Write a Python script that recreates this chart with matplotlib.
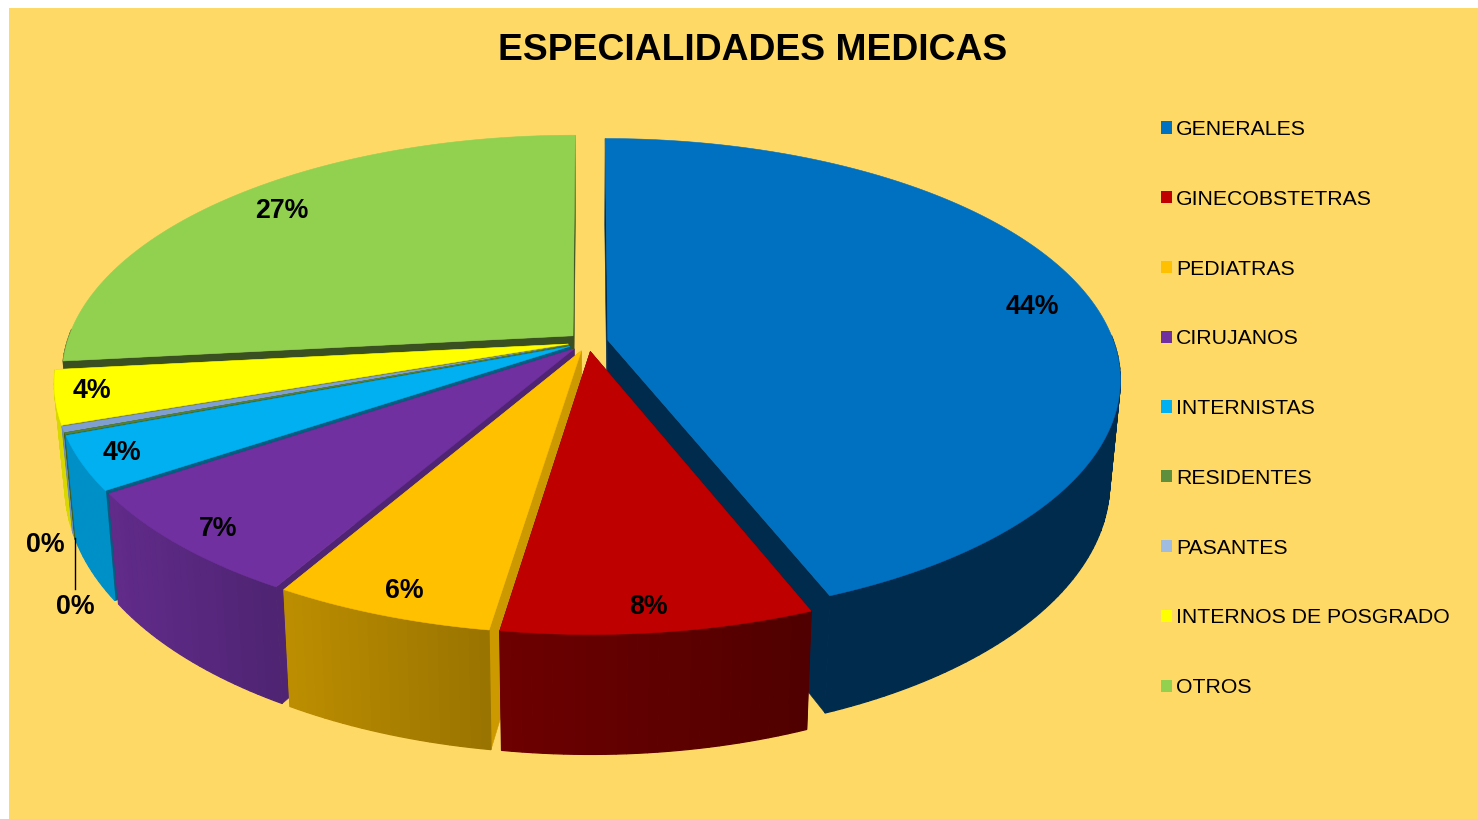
#!/usr/bin/env python3
import numpy as np
import matplotlib as mpl
mpl.use("Agg")
import matplotlib.pyplot as plt
from matplotlib.patches import Patch, Rectangle
from matplotlib.colors import to_rgb

plt.rcParams['font.family'] = ['Liberation Sans', 'DejaVu Sans']

categories = ['GENERALES', 'GINECOBSTETRAS', 'PEDIATRAS', 'CIRUJANOS', 'INTERNISTAS',
              'RESIDENTES', 'PASANTES', 'INTERNOS DE POSGRADO', 'OTROS']
values = [44.0, 8.4, 5.95, 7.25, 3.6, 0.1, 0.4, 3.6, 26.7]
pct_labels = ['44%', '8%', '6%', '7%', '4%', '0%', '0%', '4%', '27%']

top_colors = ['#0070C0', '#BE0000', '#FFC000', '#7030A0', '#00B0F0',
              '#548235', '#7F9FD0', '#FFFF00', '#92D050']
wall_left = ['#002B4C', '#6E0000', '#BD8E00', '#612B8A', '#0090C8',
             '#3F6020', '#6F8FB0', '#D8D800', '#3A5020']
wall_right = ['#002B4C', '#500000', '#9A7400', '#4F2473', '#0090C8',
              '#3F6020', '#6F8FB0', '#D8D800', '#3A5020']
face_colors = ['#002B4C', '#500000', '#CC9A00', '#4F2473', '#005F80',
               '#3F6020', '#3F5030', '#8A8A00', '#3A5020']
legend_colors = ['#0070C0', '#C00000', '#FFC000', '#7030A0', '#00B0F0',
                 '#5E8F3C', '#A0BCE0', '#FFFF00', '#92D050']
BG = '#FFD966'

# projection of the pie disk on the page (pixels)
cx, cy = 588, 342
a, b, k = 506, 234.5, 0.16
depth, shrink = 100, 0.98
explode = 0.04

# back to front
draw_order = [8, 0, 7, 6, 5, 4, 3, 2, 1]
label_pos = [(1032, 307), (648, 607), (404, 591), (218, 529), (122, 453),
             (45, 545), (75, 607), (92, 391), (282, 211)]


def project(u, v):
    w = 1 - k * v
    return cx + a * u / w, cy + b * v / w


def lower(x, y, v):
    return cx + (x - cx) * shrink, y + depth / (1 - k * v)


fig = plt.figure(figsize=(14.78, 8.19), dpi=100)
ax = fig.add_axes([0, 0, 1, 1])
ax.set_xlim(0, 1478)
ax.set_ylim(819, 0)
ax.axis('off')
ax.add_patch(Rectangle((9, 8), 1469, 811, fc=BG, ec='none', zorder=0))

fracs = np.array(values) / sum(values)
edges = np.concatenate([[0], np.cumsum(fracs)]) * 2 * np.pi

z = 1
for i in draw_order:
    t0, t1 = edges[i], edges[i + 1]
    mid = (t0 + t1) / 2
    ou, ov = explode * np.sin(mid), -explode * np.cos(mid)
    th = np.linspace(t0, t1, max(int((t1 - t0) * 60), 3))
    u = ou + np.sin(th)
    v = ov - np.cos(th)
    x, y = project(u, v)
    xb, yb = lower(x, y, v)
    ax_, ay_ = project(ou, ov)
    axb, ayb = lower(ax_, ay_, ov)

    # cut faces
    for j in (0, -1):
        ax.fill([ax_, x[j], xb[j], axb], [ay_, y[j], yb[j], ayb],
                fc=face_colors[i], ec=face_colors[i], lw=0.4, zorder=z)
    z += 1

    # outer wall, shaded along the arc, front part only
    c0, c1 = np.array(to_rgb(wall_left[i])), np.array(to_rgb(wall_right[i]))
    for n in range(len(th) - 1):
        if np.cos(th[n]) > 0.02:
            continue
        s = (x[n] - x.min()) / max(x.max() - x.min(), 1)
        col = c1 * s + c0 * (1 - s)
        ax.fill([x[n], x[n + 1], xb[n + 1], xb[n]], [y[n], y[n + 1], yb[n + 1], yb[n]],
                fc=col, ec=col, lw=0.9, zorder=z)
    z += 1

    # top
    ax.fill(np.r_[ax_, x], np.r_[ay_, y], fc=top_colors[i], ec=top_colors[i], lw=0.4, zorder=z)
    z += 1

for lab, (lx, ly) in zip(pct_labels, label_pos):
    ax.text(lx, ly, lab, fontsize=19.3, fontweight='bold', ha='center', va='center',
            color='black', zorder=z + 2)

ax.plot([75, 75], [538, 589], color='black', lw=1, zorder=z + 1)

ax.text(753, 51, 'ESPECIALIDADES MEDICAS', fontsize=26.8, fontweight='bold',
        ha='center', va='center', color='black', zorder=z + 2)

handles = [Patch(fc=c, ec='none') for c in legend_colors]
ax.legend(handles, categories, loc='upper left', bbox_to_anchor=(1161, 120),
          bbox_transform=ax.transData, frameon=False, fontsize=15.33, borderpad=0,
          borderaxespad=0, handlelength=0.5, handleheight=0.5, handletextpad=0.2,
          labelspacing=2.385, labelcolor='black')

plt.savefig('out.png', dpi=100)
